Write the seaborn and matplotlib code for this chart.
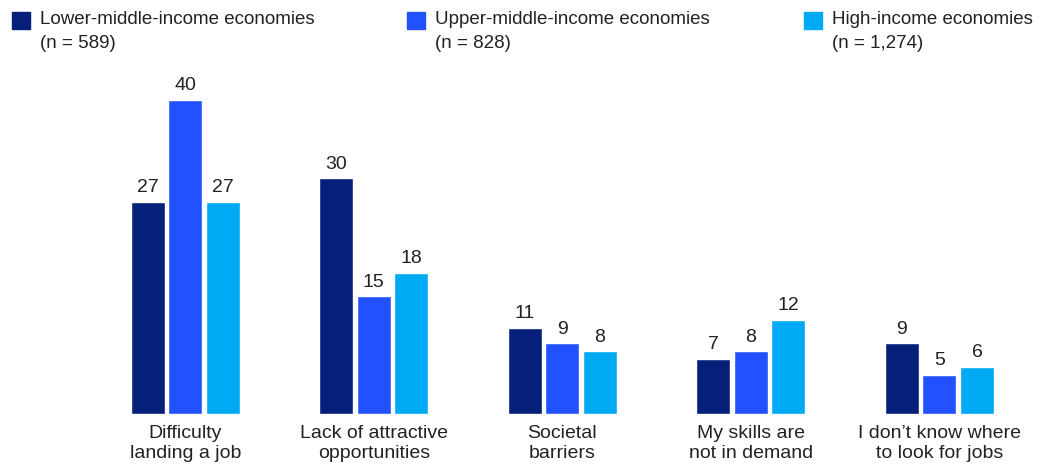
import matplotlib
matplotlib.use("Agg")
import matplotlib.pyplot as plt
from matplotlib.patches import Rectangle
import seaborn as sns
import pandas as pd

categories = [
    "Difficulty\nlanding a job",
    "Lack of attractive\nopportunities",
    "Societal\nbarriers",
    "My skills are\nnot in demand",
    "I don\u2019t know where\nto look for jobs",
]
groups = ["Lower-middle-income economies", "Upper-middle-income economies", "High-income economies"]
group_n = ["(n = 589)", "(n = 828)", "(n = 1,274)"]
lower_middle = [27, 30, 11, 7, 9]
upper_middle = [40, 15, 9, 8, 5]
high_income = [27, 18, 8, 12, 6]
colors = ["#061F79", "#2251FF", "#00A9F4"]

rows = []
for g, vals in zip(groups, [lower_middle, upper_middle, high_income]):
    for c, v in zip(categories, vals):
        rows.append({"category": c, "group": g, "value": v})
df = pd.DataFrame(rows)

sns.set_theme(style="white")
plt.rcParams["font.family"] = ["Liberation Sans", "DejaVu Sans"]

W, H = 1043, 466
fig = plt.figure(figsize=(W / 100, H / 100), dpi=100)
ax_left, ax_right = 91, 1033.5
ax_bottom, ax_top = 414, 100
ax = fig.add_axes([ax_left / W, 1 - ax_bottom / H, (ax_right - ax_left) / W, (ax_bottom - ax_top) / H])

sns.barplot(data=df, x="category", y="value", hue="group", palette=colors,
            width=0.6, gap=0.1, order=categories, hue_order=groups,
            legend=False, ax=ax, saturation=1)

ax.set_xlim(-0.5, 4.5)
ax.set_ylim(0, 40)
for spine in ax.spines.values():
    spine.set_visible(False)
ax.set_yticks([])
ax.set_xlabel("")
ax.set_ylabel("")
ax.tick_params(axis="x", length=0, pad=8, labelsize=14, labelcolor="#222222")
for lbl in ax.get_xticklabels():
    lbl.set_linespacing(1.2)

for container in ax.containers:
    ax.bar_label(container, fmt="%d", padding=4, fontsize=14, color="#222222", clip_on=False)

# legend entries across the top
legend_x = [12, 407, 804]
for x, g, n, col in zip(legend_x, groups, group_n, colors):
    fig.patches.append(Rectangle((x / W, 1 - 29 / H), 18 / W, 17 / H,
                                 transform=fig.transFigure, color=col, figure=fig))
    fig.text((x + 28) / W, 1 - 20 / H, g, fontsize=13.5, color="#222222", va="center", ha="left")
    fig.text((x + 28) / W, 1 - 44 / H, n, fontsize=13.5, color="#222222", va="center", ha="left")

fig.savefig("out.png", dpi=100)
